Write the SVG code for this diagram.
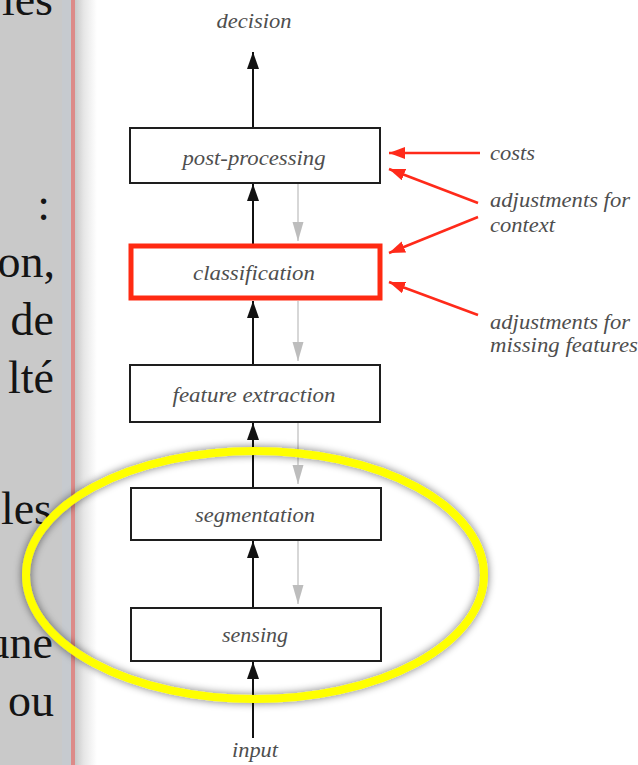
<svg xmlns="http://www.w3.org/2000/svg" width="638" height="765" viewBox="0 0 638 765">
<defs>
<style>
.box{fill:#ffffff;stroke:#1e1e1e;stroke-width:2}
.boxred{fill:#ffffff;stroke:#ff2a12;stroke-width:5}
.lbl{font-family:"Liberation Serif","Times New Roman",serif;font-style:italic;font-size:21px;fill:#4e4e4e}
.mid{text-anchor:middle}
.side{font-family:"Liberation Serif","Times New Roman",serif;font-size:46px;fill:#141414;text-anchor:end}
.up{stroke:#111;stroke-width:2;fill:none;marker-end:url(#ab)}
.down{stroke:#bdbdbd;stroke-width:1.2;fill:none;marker-end:url(#ag)}
.red{stroke:#ff2a1a;stroke-width:2.5;fill:none;marker-end:url(#ar)}
</style>
<marker id="ab" markerUnits="userSpaceOnUse" markerWidth="18" markerHeight="12" refX="17" refY="6" orient="auto"><path d="M0,0 L17,6 L0,12 z" fill="#111"/></marker>
<marker id="ag" markerUnits="userSpaceOnUse" markerWidth="20" markerHeight="12" refX="19" refY="5.5" orient="auto"><path d="M0,0 L19,5.5 L0,11 z" fill="#bdbdbd"/></marker>
<marker id="ar" markerUnits="userSpaceOnUse" markerWidth="18" markerHeight="12" refX="16" refY="6" orient="auto"><path d="M0,0 L16,6 L0,12 z" fill="#ff2a1a"/></marker>
<linearGradient id="shade" x1="0" y1="0" x2="1" y2="0">
<stop offset="0" stop-color="#c8c8c8"/>
<stop offset="0.4" stop-color="#e6e6e6"/>
<stop offset="1" stop-color="#ffffff"/>
</linearGradient>
<filter id="sh" x="-10%" y="-15%" width="120%" height="130%">
<feGaussianBlur in="SourceAlpha" stdDeviation="4" result="b"/>
<feComponentTransfer in="b" result="c"><feFuncA type="linear" slope="0.55"/></feComponentTransfer>
<feMerge><feMergeNode in="c"/><feMergeNode in="SourceGraphic"/></feMerge>
</filter>
</defs>
<rect x="0" y="0" width="638" height="765" fill="#ffffff"/>
<g id="side-panel">
<rect x="0" y="0" width="66" height="765" fill="#c9c9c9"/>
<rect x="62" y="0" width="9" height="765" fill="#c6cacf"/>
<rect x="71" y="0" width="4" height="765" fill="#dc8a88"/>
<rect x="75" y="0" width="22" height="765" fill="url(#shade)"/>
<text class="side" x="53" y="15">les</text>
<text class="side" x="50" y="220">:</text>
<text class="side" x="55" y="277">on,</text>
<text class="side" x="54" y="335">de</text>
<text class="side" x="54" y="393">lté</text>
<text class="side" x="52" y="524">les</text>
<text class="side" x="53" y="658">une</text>
<text class="side" x="54" y="716">ou</text>
</g>
<g id="connectors">
<line class="up" x1="253" y1="127" x2="253" y2="52"/>
<line class="up" x1="253" y1="244" x2="253" y2="184"/>
<line class="up" x1="253" y1="364" x2="253" y2="301"/>
<line class="up" x1="253" y1="487" x2="253" y2="423"/>
<line class="up" x1="253" y1="607" x2="253" y2="541"/>
<line class="up" x1="253" y1="738" x2="253" y2="662"/>
<line class="down" x1="298" y1="184" x2="298" y2="241"/>
<line class="down" x1="298" y1="301" x2="298" y2="361"/>
<line class="down" x1="298" y1="423" x2="298" y2="484"/>
<line class="down" x1="298" y1="541" x2="298" y2="604"/>
<line class="red" x1="480" y1="153" x2="389" y2="153"/>
<line class="red" x1="478" y1="203" x2="389" y2="169"/>
<line class="red" x1="478" y1="217" x2="389" y2="253"/>
<line class="red" x1="478" y1="315" x2="389" y2="282"/>
</g>
<g id="post-processing">
<rect class="box" x="130" y="128" width="250" height="55"/>
<text class="lbl mid" x="254" y="165" textLength="143" lengthAdjust="spacingAndGlyphs">post-processing</text>
</g>
<g id="classification">
<rect class="boxred" x="131" y="246" width="249" height="52"/>
<text class="lbl mid" x="254" y="280" textLength="122" lengthAdjust="spacingAndGlyphs">classification</text>
</g>
<g id="feature-extraction">
<rect class="box" x="130" y="365" width="250" height="57"/>
<text class="lbl mid" x="254" y="402" textLength="163" lengthAdjust="spacingAndGlyphs">feature extraction</text>
</g>
<g id="segmentation">
<rect class="box" x="131" y="488" width="250" height="52"/>
<text class="lbl mid" x="255" y="522" textLength="120" lengthAdjust="spacingAndGlyphs">segmentation</text>
</g>
<g id="sensing">
<rect class="box" x="131" y="608" width="250" height="53"/>
<text class="lbl mid" x="255" y="642" textLength="66" lengthAdjust="spacingAndGlyphs">sensing</text>
</g>
<g id="decision">
<text class="lbl mid" x="254" y="28" textLength="75" lengthAdjust="spacingAndGlyphs">decision</text>
</g>
<g id="input">
<text class="lbl mid" x="255" y="757" textLength="46" lengthAdjust="spacingAndGlyphs">input</text>
</g>
<g id="costs">
<text class="lbl" x="490" y="160" textLength="45" lengthAdjust="spacingAndGlyphs">costs</text>
</g>
<g id="adjustments-context">
<text class="lbl" x="490" y="207" textLength="140" lengthAdjust="spacingAndGlyphs">adjustments for</text>
<text class="lbl" x="490" y="232" textLength="65" lengthAdjust="spacingAndGlyphs">context</text>
</g>
<g id="adjustments-missing">
<text class="lbl" x="490" y="329" textLength="140" lengthAdjust="spacingAndGlyphs">adjustments for</text>
<text class="lbl" x="490" y="352" textLength="148" lengthAdjust="spacingAndGlyphs">missing features</text>
</g>
<g id="highlight">
<ellipse cx="255" cy="575" rx="229" ry="124" fill="none" stroke="#ffff00" stroke-width="8" filter="url(#sh)"/>
</g>
</svg>
